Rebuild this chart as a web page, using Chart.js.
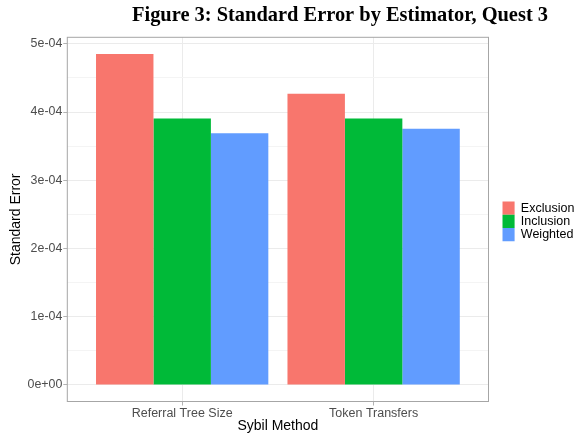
<!DOCTYPE html>
<html>
<head>
<meta charset="utf-8">
<script src="https://cdn.jsdelivr.net/npm/chart.js@4/dist/chart.umd.min.js"></script>
<style>
	html, body {margin: 0; padding: 0; background: #fff;}
	#box {width: 576px; height: 435px;}
</style>
</head>
<body>
<div id="box"><canvas id="chart"></canvas></div>
<script>
const categories = ["Referral Tree Size", "Token Transfers"];
const estimators = ["Exclusion", "Inclusion", "Weighted"];
const colors = ["#F8766D", "#00BA38", "#619CFF"];
const exclusion = [4.853e-4, 4.27e-4];
const inclusion = [3.905e-4, 3.905e-4];
const weighted = [3.69e-4, 3.754e-4];
const yTicks = [0, 1e-4, 2e-4, 3e-4, 4e-4, 5e-4];
const yTickLabels = ["0e+00", "1e-04", "2e-04", "3e-04", "4e-04", "5e-04"];

const series = [exclusion, inclusion, weighted];
const SANS = "'Liberation Sans', Arial, sans-serif";
const GRID_MAJOR = "#ebebeb", GRID_MINOR = "#f4f4f4", TICK = "#b3b3b3";
const LEGEND_W = 576 - 488.5;

//minor gridlines sit halfway between the major ones, like ggplot does
const minorTicks = yTicks.slice(1).map((v, i) => (v + yTicks[i]) / 2);
const isMajor = v => yTicks.some(t => Math.abs(t - v) < 1e-9);

const panelBorder = {
	id: "panelBorder",
	beforeLayout(chart) {
		//ggplot leaves a gap between panel and legend; widen the legend box to get it
		const lg = chart.legend;
		if (lg && !lg._wide) {
			const fit = lg.fit;
			lg.fit = function() { fit.call(this); this.width = LEGEND_W; };
			lg._wide = true;
		}
	},
	afterLayout(chart) {
		//centre the title over the span it has in the reference, and push the legend keys right
		chart.titleBlock.left = 132; chart.titleBlock.right = 548;
		const lg = chart.legend;
		lg.left = 502.3; lg.right = lg.left + LEGEND_W;
		lg.top += 2; lg.bottom += 2;
	},
	afterDraw(chart) {
		const {ctx, chartArea: a} = chart;
		ctx.save();
		ctx.strokeStyle = "#a6a6a6";
		ctx.lineWidth = 1;
		ctx.strokeRect(a.left, a.top, a.right - a.left, a.bottom - a.top);
		ctx.restore();
	},
};

new Chart(document.getElementById("chart"), {
	type: "bar",
	data: {
		datasets: estimators.map((name, i) => ({
			label: name,
			data: series[i].map((y, c) => ({x: c + 1, y})),
			backgroundColor: colors[i],
			borderColor: colors[i],
			borderWidth: 0,
			categoryPercentage: 0.9,
			barPercentage: 1,
		})),
	},
	options: {
		responsive: true,
		maintainAspectRatio: false,
		animation: false,
		layout: {padding: 0},
		plugins: {
			title: {
				display: true,
				text: "Figure 3: Standard Error by Estimator, Quest 3",
				color: "#000",
				font: {family: "'Liberation Serif', 'DejaVu Serif', serif", size: 21.5, weight: "bold", lineHeight: 1},
				padding: {top: 5, bottom: 10.8},
			},
			legend: {
				position: "right",
				fullSize: false,
				labels: {
					boxWidth: 12.3, boxHeight: 13.3, padding: 0,
					color: "#000",
					font: {family: SANS, size: 12.5},
				},
			},
			tooltip: {enabled: false},
		},
		scales: {
			x: {
				type: "linear",
				min: 0.4, max: 2.6,
				offset: false,
				afterBuildTicks: s => { s.ticks = categories.map((c, i) => ({value: i + 1})); },
				afterFit: s => { s.height = 33.5; },
				ticks: {
					autoSkip: false,
					maxRotation: 0,
					callback: v => categories[v - 1],
					color: "#4d4d4d",
					font: {family: SANS, size: 12.5},
					padding: 1,
				},
				grid: {color: GRID_MAJOR, tickColor: TICK, tickLength: 4, lineWidth: 1, offset: false},
				border: {display: false},
				title: {display: true, text: "Sybil Method", color: "#000", font: {family: SANS, size: 14}, padding: {top: 0, bottom: 0}},
			},
			y: {
				min: -0.2427e-4, max: 5.096e-4,
				afterBuildTicks: s => {
					s.ticks = [...yTicks, ...minorTicks].sort((a, b) => a - b).map(value => ({value}));
				},
				afterFit: s => { s.width = 67.3; },
				ticks: {
					autoSkip: false,
					callback: v => { const i = yTicks.findIndex(t => Math.abs(t - v) < 1e-9); return i < 0 ? "" : yTickLabels[i]; },
					color: "#4d4d4d",
					font: {family: SANS, size: 12.4},
					padding: 1,
				},
				grid: {
					color: c => isMajor(c.tick.value) ? GRID_MAJOR : GRID_MINOR,
					tickColor: c => isMajor(c.tick.value) ? TICK : "rgba(0,0,0,0)",
					tickLength: 4,
					lineWidth: 1,
				},
				border: {display: false},
				title: {display: true, text: "Standard Error", color: "#000", font: {family: SANS, size: 14}, padding: {top: 8, bottom: 0}},
			},
		},
	},
	plugins: [panelBorder],
});
</script>
</body>
</html>
